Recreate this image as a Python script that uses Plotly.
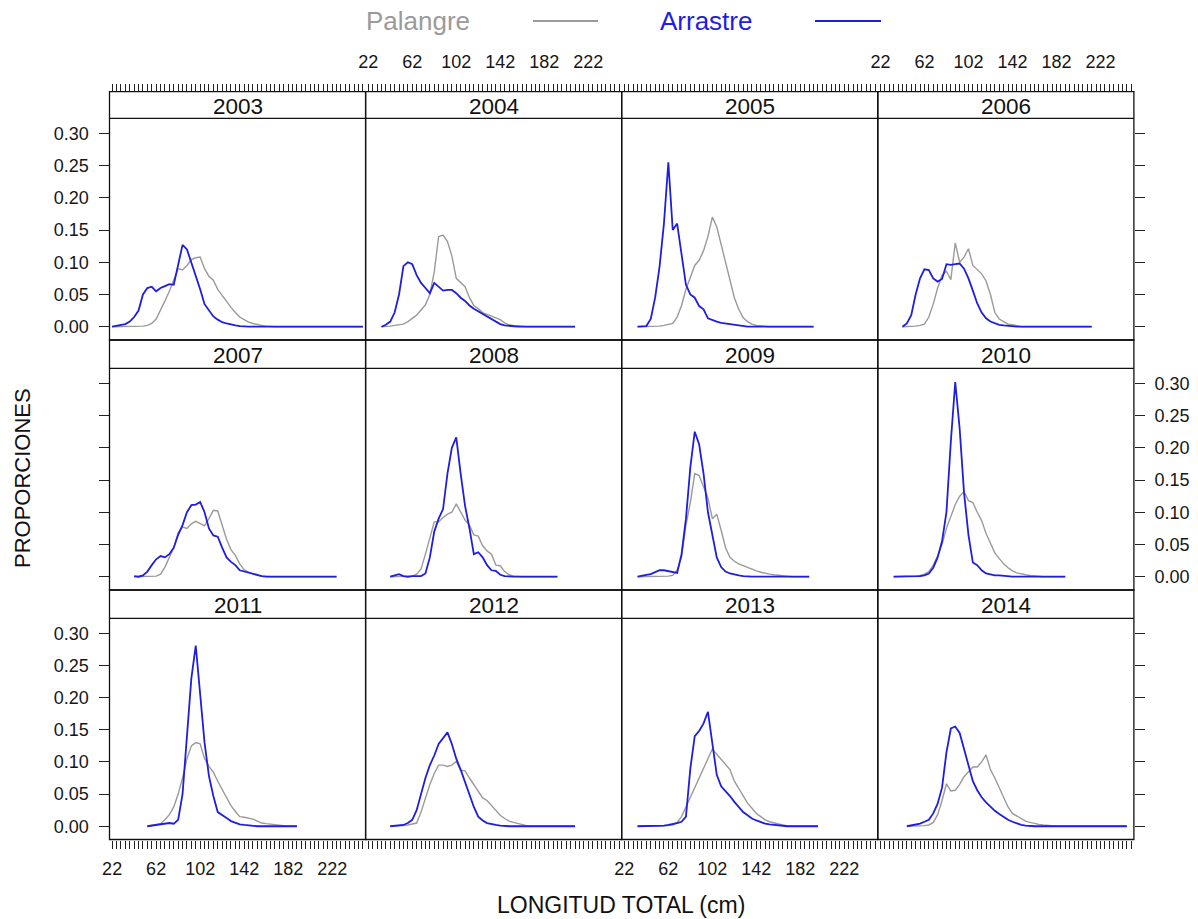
import plotly.graph_objects as go

W, H = 1198, 919

# ---------------- data ----------------
YEARS = [2003, 2004, 2005, 2006, 2007, 2008, 2009, 2010, 2011, 2012, 2013, 2014]
BINS = list(range(22, 251, 4))          # length classes (cm)
LABELLED = [22, 62, 102, 142, 182, 222]  # tick labels on the x axis
Y_TICKS = [0.0, 0.05, 0.10, 0.15, 0.20, 0.25, 0.30]
Y_LABELS = ["0.00", "0.05", "0.10", "0.15", "0.20", "0.25", "0.30"]

# first length class of each year
START = {2003: 22, 2004: 34, 2005: 34, 2006: 42, 2007: 42, 2008: 42,
         2009: 34, 2010: 34, 2011: 54, 2012: 42, 2013: 34, 2014: 46}

PALANGRE_2003 = [0, 0, 0, 0, 0, 0, 0.001, 0.001, 0.002, 0.005, 0.012, 0.025, 0.04, 0.055, 0.072, 0.09,
                 0.088, 0.095, 0.104, 0.107, 0.108, 0.09, 0.078, 0.072, 0.058, 0.048, 0.04, 0.03, 0.022,
                 0.015, 0.011, 0.007, 0.005, 0.003, 0.002, 0.001,
                 0, 0, 0, 0, 0, 0, 0, 0, 0, 0, 0, 0, 0, 0, 0, 0, 0, 0, 0, 0, 0, 0]
ARRASTRE_2003 = [0, 0.001, 0.002, 0.004, 0.008, 0.015, 0.025, 0.05, 0.06, 0.062, 0.055, 0.06, 0.063,
                 0.066, 0.065, 0.097, 0.127, 0.12, 0.1, 0.078, 0.058, 0.035, 0.025, 0.016, 0.011, 0.007,
                 0.005, 0.003, 0.002, 0.001,
                 0, 0, 0, 0, 0, 0, 0, 0, 0, 0, 0, 0, 0, 0, 0, 0, 0, 0, 0, 0, 0, 0, 0, 0, 0, 0, 0, 0]

PALANGRE_2004 = [0, 0, 0.001, 0.002, 0.003, 0.004, 0.008, 0.013, 0.018, 0.026, 0.034, 0.05, 0.085, 0.14,
                 0.142, 0.132, 0.11, 0.075, 0.068, 0.062, 0.045, 0.033, 0.028, 0.022, 0.019, 0.016,
                 0.013, 0.011, 0.006, 0.003, 0.002, 0.001,
                 0, 0, 0, 0, 0, 0, 0, 0, 0, 0, 0, 0, 0]
ARRASTRE_2004 = [0, 0.003, 0.008, 0.022, 0.05, 0.094, 0.1, 0.097, 0.08, 0.068, 0.06, 0.052, 0.068,
                 0.062, 0.056, 0.057, 0.057, 0.052, 0.045, 0.04, 0.033, 0.028, 0.024, 0.019, 0.015,
                 0.011, 0.007, 0.004, 0.002, 0.001,
                 0, 0, 0, 0, 0, 0, 0, 0, 0, 0, 0, 0, 0, 0, 0]

PALANGRE_2005 = [0, 0, 0, 0, 0, 0.001, 0.002, 0.003, 0.005, 0.015, 0.033, 0.058, 0.078, 0.095, 0.103,
                 0.118, 0.14, 0.17, 0.155, 0.128, 0.098, 0.07, 0.045, 0.027, 0.014, 0.008, 0.004,
                 0.002, 0.001,
                 0, 0, 0, 0, 0, 0, 0, 0, 0, 0, 0, 0]
ARRASTRE_2005 = [0, 0, 0.001, 0.012, 0.045, 0.093, 0.16, 0.255, 0.15, 0.16, 0.11, 0.065, 0.05, 0.045,
                 0.032, 0.027, 0.013, 0.01, 0.008, 0.006, 0.005, 0.004, 0.003, 0.001,
                 0, 0, 0, 0, 0, 0, 0, 0, 0, 0, 0, 0, 0, 0, 0, 0, 0]

PALANGRE_2006 = [0, 0, 0, 0.001, 0.002, 0.004, 0.015, 0.035, 0.06, 0.08, 0.086, 0.073, 0.13, 0.1,
                 0.108, 0.121, 0.095, 0.088, 0.082, 0.071, 0.05, 0.022, 0.012, 0.008, 0.004, 0.003,
                 0.001,
                 0, 0, 0, 0, 0, 0, 0, 0, 0, 0, 0, 0, 0, 0, 0, 0, 0]
ARRASTRE_2006 = [0, 0.005, 0.018, 0.05, 0.075, 0.089, 0.088, 0.075, 0.07, 0.074, 0.097, 0.096, 0.097,
                 0.098, 0.09, 0.075, 0.056, 0.036, 0.022, 0.013, 0.008, 0.005, 0.003, 0.002, 0.001,
                 0, 0, 0, 0, 0, 0, 0, 0, 0, 0, 0, 0, 0, 0, 0, 0, 0, 0, 0]

PALANGRE_2007 = [0, 0, 0, 0, 0, 0.001, 0.004, 0.015, 0.03, 0.045, 0.068, 0.077, 0.075, 0.082, 0.086,
                 0.083, 0.079, 0.09, 0.103, 0.102, 0.08, 0.058, 0.042, 0.033, 0.02, 0.011, 0.007,
                 0.004, 0.002, 0.001,
                 0, 0, 0, 0, 0, 0, 0, 0, 0, 0, 0, 0, 0, 0, 0, 0, 0]
ARRASTRE_2007 = [0.001, 0, 0.002, 0.008, 0.018, 0.027, 0.032, 0.03, 0.035, 0.045, 0.065, 0.08, 0.1,
                 0.111, 0.112, 0.116, 0.1, 0.075, 0.064, 0.062, 0.045, 0.03, 0.023, 0.018, 0.01,
                 0.008, 0.006, 0.004, 0.002, 0.001,
                 0, 0, 0, 0, 0, 0, 0, 0, 0, 0, 0, 0, 0, 0, 0, 0, 0]

PALANGRE_2008 = [0, 0, 0, 0, 0, 0.001, 0.004, 0.012, 0.035, 0.06, 0.085, 0.085, 0.092, 0.097, 0.1,
                 0.113, 0.1, 0.088, 0.08, 0.065, 0.063, 0.048, 0.04, 0.035, 0.018, 0.017, 0.008,
                 0.003, 0.001,
                 0, 0, 0, 0, 0, 0, 0, 0, 0, 0]
ARRASTRE_2008 = [0, 0.002, 0.004, 0.001, 0, 0.001, 0.001, 0.001, 0.005, 0.03, 0.07, 0.09, 0.105,
                 0.16, 0.2, 0.216, 0.16, 0.11, 0.075, 0.035, 0.038, 0.03, 0.018, 0.01, 0.009, 0.003,
                 0.001,
                 0, 0, 0, 0, 0, 0, 0, 0, 0, 0, 0, 0]

PALANGRE_2009 = [0, 0, 0, 0, 0, 0, 0, 0.001, 0.002, 0.01, 0.03, 0.08, 0.115, 0.16, 0.157, 0.14,
                 0.122, 0.09, 0.097, 0.072, 0.045, 0.03, 0.024, 0.02, 0.017, 0.014, 0.012, 0.009,
                 0.007, 0.005, 0.004, 0.003, 0.002, 0.001,
                 0, 0, 0, 0, 0, 0]
ARRASTRE_2009 = [0, 0.002, 0.003, 0.004, 0.007, 0.01, 0.01, 0.009, 0.007, 0.006, 0.035, 0.09, 0.17,
                 0.225, 0.205, 0.16, 0.1, 0.065, 0.03, 0.015, 0.008, 0.005, 0.003, 0.002, 0.001,
                 0, 0, 0, 0, 0, 0, 0, 0, 0, 0, 0, 0, 0, 0, 0]

PALANGRE_2010 = [0, 0, 0, 0, 0, 0.001, 0.002, 0.004, 0.008, 0.018, 0.032, 0.05, 0.075, 0.095, 0.112,
                 0.125, 0.132, 0.118, 0.115, 0.1, 0.087, 0.067, 0.052, 0.037, 0.028, 0.02, 0.014,
                 0.009, 0.006, 0.004, 0.003, 0.002, 0.001,
                 0, 0, 0, 0, 0, 0, 0]
ARRASTRE_2010 = [0, 0, 0, 0, 0, 0, 0.001, 0.002, 0.005, 0.014, 0.03, 0.055, 0.1, 0.21, 0.302, 0.23,
                 0.13, 0.065, 0.022, 0.018, 0.01, 0.005, 0.003, 0.002, 0.002, 0.001, 0.001,
                 0, 0, 0, 0, 0, 0, 0, 0, 0, 0, 0, 0, 0]

PALANGRE_2011 = [0, 0.001, 0.002, 0.004, 0.01, 0.018, 0.03, 0.05, 0.075, 0.105, 0.125, 0.13, 0.128,
                 0.105, 0.093, 0.084, 0.07, 0.058, 0.045, 0.032, 0.023, 0.015, 0.014, 0.013, 0.011,
                 0.008, 0.005, 0.004, 0.003, 0.002, 0.001, 0.001,
                 0, 0, 0]
ARRASTRE_2011 = [0, 0.001, 0.001, 0.002, 0.004, 0.005, 0.004, 0.01, 0.05, 0.14, 0.23, 0.281, 0.2,
                 0.13, 0.078, 0.047, 0.022, 0.018, 0.013, 0.008, 0.005, 0.003, 0.002, 0.001,
                 0, 0, 0, 0, 0, 0, 0, 0, 0, 0, 0]

PALANGRE_2012 = [0, 0, 0, 0.001, 0.002, 0.003, 0.005, 0.022, 0.045, 0.065, 0.082, 0.095, 0.095,
                 0.093, 0.095, 0.101, 0.087, 0.086, 0.075, 0.064, 0.055, 0.044, 0.04, 0.032, 0.024,
                 0.017, 0.012, 0.008, 0.006, 0.004, 0.002, 0.001,
                 0, 0, 0, 0, 0, 0, 0, 0, 0, 0, 0]
ARRASTRE_2012 = [0, 0.001, 0.001, 0.002, 0.005, 0.01, 0.025, 0.05, 0.075, 0.095, 0.11, 0.128, 0.138,
                 0.146, 0.128, 0.105, 0.088, 0.068, 0.048, 0.03, 0.015, 0.009, 0.005, 0.003, 0.002,
                 0.001,
                 0, 0, 0, 0, 0, 0, 0, 0, 0, 0, 0, 0, 0, 0, 0, 0, 0]

PALANGRE_2013 = [0, 0, 0, 0, 0, 0, 0, 0.001, 0.002, 0.006, 0.015, 0.03, 0.045, 0.062, 0.075, 0.09,
                 0.105, 0.12, 0.112, 0.104, 0.096, 0.088, 0.07, 0.058, 0.048, 0.036, 0.028, 0.02,
                 0.015, 0.01, 0.007, 0.005, 0.003, 0.002, 0.001,
                 0, 0, 0, 0, 0, 0, 0]
ARRASTRE_2013 = [0, 0, 0, 0, 0, 0.001, 0.001, 0.002, 0.003, 0.005, 0.007, 0.015, 0.09, 0.14, 0.148,
                 0.16, 0.178, 0.125, 0.08, 0.062, 0.055, 0.047, 0.038, 0.03, 0.022, 0.017, 0.012,
                 0.009, 0.006, 0.004, 0.003, 0.002, 0.001,
                 0, 0, 0, 0, 0, 0, 0, 0, 0]

PALANGRE_2014 = [0, 0, 0, 0, 0.001, 0.002, 0.006, 0.018, 0.04, 0.066, 0.055, 0.056, 0.065, 0.077,
                 0.085, 0.092, 0.092, 0.1, 0.111, 0.088, 0.075, 0.06, 0.045, 0.03, 0.02, 0.016,
                 0.013, 0.008, 0.006, 0.004, 0.003, 0.002, 0.001,
                 0, 0, 0, 0, 0, 0, 0, 0, 0, 0, 0, 0, 0, 0, 0, 0, 0, 0]
ARRASTRE_2014 = [0, 0.001, 0.002, 0.004, 0.007, 0.01, 0.02, 0.035, 0.06, 0.115, 0.152, 0.155, 0.145,
                 0.12, 0.095, 0.07, 0.056, 0.045, 0.037, 0.03, 0.024, 0.019, 0.014, 0.01, 0.007,
                 0.004, 0.002, 0.001,
                 0, 0, 0, 0, 0, 0, 0, 0, 0, 0, 0, 0, 0, 0, 0, 0, 0, 0, 0, 0, 0, 0, 0]

PALANGRE = {2003: PALANGRE_2003, 2004: PALANGRE_2004, 2005: PALANGRE_2005, 2006: PALANGRE_2006,
            2007: PALANGRE_2007, 2008: PALANGRE_2008, 2009: PALANGRE_2009, 2010: PALANGRE_2010,
            2011: PALANGRE_2011, 2012: PALANGRE_2012, 2013: PALANGRE_2013, 2014: PALANGRE_2014}
ARRASTRE = {2003: ARRASTRE_2003, 2004: ARRASTRE_2004, 2005: ARRASTRE_2005, 2006: ARRASTRE_2006,
            2007: ARRASTRE_2007, 2008: ARRASTRE_2008, 2009: ARRASTRE_2009, 2010: ARRASTRE_2010,
            2011: ARRASTRE_2011, 2012: ARRASTRE_2012, 2013: ARRASTRE_2013, 2014: ARRASTRE_2014}

# ---------------- style / layout ----------------
GRAY = "#9a9a9a"
BLUE = "#1e1ee0"
FONT = "Liberation Sans, Arial, Helvetica, sans-serif"
COL_EDGES = [109.5, 365.6, 621.7, 877.8, 1133.9]
STRIP_TOP = [91.7, 340.0, 590.0]
STRIP_BOT = [118.3, 368.3, 618.3]
PANEL_BOT = [340.0, 590.0, 839.5]
XR = [19.6, 252.4]
YR = [-0.0206, 0.3233]


def px(x):
    return x / W


def py(y):
    return 1 - y / H


fig = go.Figure()
layout = dict(template="none", width=W, height=H, autosize=False,
              margin=dict(l=0, r=0, t=0, b=0, pad=0),
              paper_bgcolor="white", plot_bgcolor="white", showlegend=False,
              font=dict(family=FONT, color="#161616", size=18))
shapes, annotations = [], []
xticktext = [str(b) if b in LABELLED else "" for b in BINS]

for k, yr in enumerate(YEARS):
    r, c = divmod(k, 4)
    n = k + 1
    sfx = "" if n == 1 else str(n)
    xref, yref = "x" + sfx, "y" + sfx
    L, R = COL_EDGES[c], COL_EDGES[c + 1]

    xaxis = dict(domain=[px(L), px(R)], range=XR, showgrid=False, zeroline=False, showline=False,
                 automargin=False, tickmode="array", tickvals=BINS, ticktext=xticktext, ticks="",
                 showticklabels=False, tickcolor="#222", tickwidth=1, ticklen=8,
                 tickfont=dict(size=18, color="#161616"), fixedrange=True, anchor=yref,
                 ticklabelstandoff=5)
    if r == 0:
        xaxis.update(side="top", anchor="free", position=py(STRIP_TOP[0]), ticks="outside",
                     showticklabels=(c in (1, 3)), ticklabelstandoff=9)
    elif r == 2:
        xaxis.update(side="bottom", ticks="outside", showticklabels=(c in (0, 2)))

    yaxis = dict(domain=[py(PANEL_BOT[r]), py(STRIP_BOT[r])], range=YR, showgrid=False,
                 zeroline=False, showline=False, automargin=False, tickmode="array",
                 tickvals=Y_TICKS, ticktext=Y_LABELS, ticks="", showticklabels=False,
                 tickcolor="#222", tickwidth=1, ticklen=10,
                 tickfont=dict(size=18, color="#161616"), fixedrange=True, anchor=xref,
                 ticklabelstandoff=6)
    if c == 0:
        yaxis.update(side="left", ticks="outside", showticklabels=(r in (0, 2)))
    elif c == 3:
        yaxis.update(side="right", ticks="outside", showticklabels=(r == 1))

    layout["xaxis" + sfx] = xaxis
    layout["yaxis" + sfx] = yaxis

    i0 = BINS.index(START[yr])
    pal = PALANGRE[yr]
    arr = ARRASTRE[yr]
    fig.add_trace(go.Scatter(x=BINS[i0:i0 + len(pal)], y=pal, mode="lines", xaxis=xref, yaxis=yref,
                             line=dict(color=GRAY, width=1.4), name="Palangre", hoverinfo="skip"))
    fig.add_trace(go.Scatter(x=BINS[i0:i0 + len(arr)], y=arr, mode="lines", xaxis=xref, yaxis=yref,
                             line=dict(color=BLUE, width=1.8), name="Arrastre", hoverinfo="skip"))

    # panel border (incl. strip) and strip separator
    shapes.append(dict(type="rect", xref="paper", yref="paper", x0=px(L), x1=px(R),
                       y0=py(PANEL_BOT[r]), y1=py(STRIP_TOP[r]), line=dict(color="#111", width=1.3),
                       fillcolor="rgba(0,0,0,0)", layer="above"))
    shapes.append(dict(type="line", xref="paper", yref="paper", x0=px(L), x1=px(R),
                       y0=py(STRIP_BOT[r]), y1=py(STRIP_BOT[r]), line=dict(color="#111", width=1.3)))
    annotations.append(dict(text=str(yr), xref="paper", yref="paper", x=px((L + R) / 2),
                            y=py((STRIP_TOP[r] + STRIP_BOT[r]) / 2 + 1), xanchor="center",
                            yanchor="middle", showarrow=False, font=dict(size=22.5, color="#111")))

# legend (text then line sample)
annotations.append(dict(text="Palangre", xref="paper", yref="paper", x=px(418), y=py(21),
                        xanchor="center", yanchor="middle", showarrow=False,
                        font=dict(size=26, color=GRAY)))
shapes.append(dict(type="line", xref="paper", yref="paper", x0=px(533), x1=px(598), y0=py(21),
                   y1=py(21), line=dict(color=GRAY, width=2)))
annotations.append(dict(text="Arrastre", xref="paper", yref="paper", x=px(706), y=py(21),
                        xanchor="center", yanchor="middle", showarrow=False,
                        font=dict(size=26, color=BLUE)))
shapes.append(dict(type="line", xref="paper", yref="paper", x0=px(815), x1=px(881), y0=py(21),
                   y1=py(21), line=dict(color=BLUE, width=2)))

# axis titles
annotations.append(dict(text="LONGITUD TOTAL (cm)", xref="paper", yref="paper", x=px(621),
                        y=py(905), xanchor="center", yanchor="middle", showarrow=False,
                        font=dict(size=23, color="#111")))
annotations.append(dict(text="PROPORCIONES", xref="paper", yref="paper", x=px(22), y=py(478),
                        xanchor="center", yanchor="middle", showarrow=False, textangle=-90,
                        font=dict(size=22, color="#111")))

layout["shapes"] = shapes
layout["annotations"] = annotations
fig.update_layout(**layout)
fig.write_html("out.html")
